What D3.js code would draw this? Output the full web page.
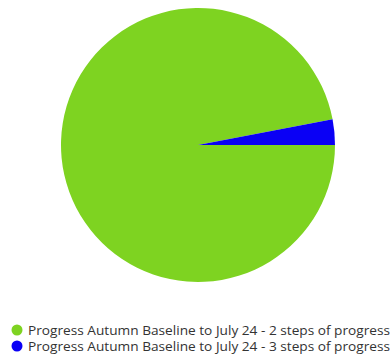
<!DOCTYPE html>
<html><head><meta charset="utf-8">
<script src="https://cdn.jsdelivr.net/npm/d3@7/dist/d3.min.js"></script>
<style>html,body{margin:0;padding:0;background:#fff;}svg{display:block;}</style>
</head><body>
<svg id="chart" width="391" height="357"></svg>
<script>
const categories = [
  "Progress Autumn Baseline to July 24 - 2 steps of progress",
  "Progress Autumn Baseline to July 24 - 3 steps of progress"
];
const values = [97, 3];
const colors = ["#7ed321", "#0a00f5"];

const svg = d3.select("#chart");
const cx = 198, cy = 145, R = 137;

const pie = d3.pie().sort(null).value(d => d.v)
  .startAngle(Math.PI / 2).endAngle(Math.PI / 2 + 2 * Math.PI);
const data = categories.map((c, i) => ({c, v: values[i], col: colors[i]}));
const arc = d3.arc().innerRadius(0).outerRadius(R);

svg.append("g").attr("transform", `translate(${cx},${cy})`)
  .selectAll("path").data(pie(data)).join("path")
  .attr("d", arc).attr("fill", d => d.data.col);

const legend = svg.append("g");
const y0 = 330, dy = 16;
const items = legend.selectAll("g").data(data).join("g")
  .attr("transform", (d, i) => `translate(0,${y0 + i * dy})`);
items.append("circle").attr("cx", 17).attr("cy", 0).attr("r", 5.5).attr("fill", d => d.col);
items.append("text").attr("x", 28).attr("y", 4.5)
  .attr("font-family", "'Open Sans', sans-serif").attr("font-size", 12.2)
  .attr("fill", "#333").text(d => d.c)
  .each(function() {
    const w = this.getComputedTextLength();
    const target = 362;
    if (Math.abs(w - target) > 2) {
      d3.select(this).attr("textLength", target).attr("lengthAdjust", "spacingAndGlyphs");
    }
  });
</script>
</body></html>
